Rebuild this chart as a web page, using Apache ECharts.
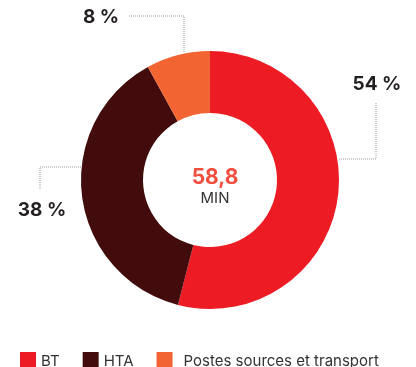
<!DOCTYPE html>
<html>
<head>
<meta charset="utf-8">
<script src="https://cdn.jsdelivr.net/npm/echarts@6/dist/echarts.min.js"></script>
<style>
  html, body { margin: 0; padding: 0; background: #fff; }
  #chart { width: 416px; height: 367px; }
</style>
</head>
<body>
<div id="chart"></div>
<script>
// Share of outage minutes by network level
const categories = ['BT', 'HTA', 'Postes sources et transport'];
const shares = [54, 38, 8];
const colors = ['#ED1C24', '#410C0B', '#F26532'];
const totalValue = '58,8';
const totalUnit = 'MIN';

// Label placement: text anchor plus elbow line (pixel layout)
const labelSpots = [
  { x: 377, y: 84, line: [[339, 159], [376, 159], [376, 102]] },
  { x: 42, y: 210, line: [[81, 167], [40, 167], [40, 190]] },
  { x: 101, y: 17, line: [[184, 52], [184, 16], [129, 16]] }
];

const FONT = 'Inter, "Open Sans", sans-serif';

const chart = echarts.init(document.getElementById('chart'), null, { renderer: 'canvas' });

chart.setOption({
  animation: false,
  color: colors,
  title: {
    text: totalValue,
    subtext: totalUnit,
    left: 210,
    top: 162,
    textAlign: 'center',
    itemGap: 3,
    textStyle: { color: '#F04E3E', fontSize: 21, fontWeight: 'bold', fontFamily: FONT },
    subtextStyle: { color: '#333', fontSize: 15, fontFamily: FONT }
  },
  legend: {
    data: categories.map((name, i) => ({
      name,
      textStyle: i === 2 ? { padding: [0, 0, 0, 6] } : {}
    })),
    left: 15,
    top: 347,
    icon: 'rect',
    itemWidth: 16,
    itemHeight: 18,
    itemGap: 23,
    textStyle: { color: '#333', fontSize: 15, fontFamily: FONT }
  },
  series: [{
    type: 'pie',
    center: [210, 180],
    radius: [67, 129],
    startAngle: 90,
    clockwise: true,
    avoidLabelOverlap: false,
    data: categories.map((name, i) => ({ name, value: shares[i] })),
    label: {
      show: true,
      formatter: '{c} %',
      color: '#231F20',
      fontSize: 19,
      fontWeight: 'bold',
      fontFamily: FONT
    },
    labelLine: {
      show: true,
      lineStyle: { color: '#999', width: 1, type: [1, 1] }
    },
    labelLayout: function (params) {
      const s = labelSpots[params.dataIndex];
      return {
        x: s.x,
        y: s.y,
        align: 'center',
        verticalAlign: 'middle',
        labelLinePoints: s.line
      };
    },
    emphasis: { disabled: true }
  }]
});
</script>
</body>
</html>
